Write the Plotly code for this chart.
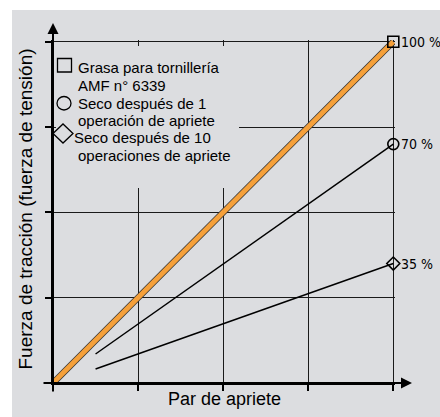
import plotly.graph_objects as go

# chart values
grasa_x = [0, 4]
grasa_y = [0, 4]
seco_x = [0.5, 4]
seco1_y = [0.34, 2.8]
seco10_y = [0.165, 1.4]
pct_labels = ["100 %", "70 %", "35 %"]
ticks = [0, 1, 2, 3, 4]

legend_lines = [
    "Grasa para tornillería", "AMF n° 6339",
    "Seco después de 1", "operación de apriete",
    "Seco después de 10", "operaciones de apriete",
]

BG = "#dcdde0"
ORANGE = "#f5a03a"

# plot area in pixels: x 53..395, y 40..383
L, R, T, B = 53, 45, 40, 34
W, H = 440, 417
PW, PH = W - L - R, H - T - B


def px_x(px):
    return (px - L) / PW


def px_y(py):
    return (H - B - py) / PH


fig = go.Figure()

fig.add_trace(go.Scatter(x=grasa_x, y=grasa_y, mode="lines",
                         line=dict(color="#333333", width=6.5), cliponaxis=False))
fig.add_trace(go.Scatter(x=grasa_x, y=grasa_y, mode="lines",
                         line=dict(color=ORANGE, width=5), cliponaxis=False))
fig.add_trace(go.Scatter(x=seco_x, y=seco1_y, mode="lines",
                         line=dict(color="black", width=1.5), cliponaxis=False))
fig.add_trace(go.Scatter(x=seco_x, y=seco10_y, mode="lines",
                         line=dict(color="black", width=1.5), cliponaxis=False))

ends = [(grasa_x[-1], grasa_y[-1], "square-open", 11),
        (seco_x[-1], seco1_y[-1], "circle-open", 11),
        (seco_x[-1], seco10_y[-1], "diamond-open", 10)]
for x, y, sym, size in ends:
    fig.add_trace(go.Scatter(x=[x], y=[y], mode="markers", cliponaxis=False,
                             marker=dict(symbol=sym, size=size, color="black",
                                         line=dict(width=1.6, color="black"))))

for (x, y, _, _), lab in zip(ends, pct_labels):
    fig.add_annotation(x=x, y=y, text=lab, showarrow=False, xanchor="left",
                       yanchor="middle", xshift=6,
                       font=dict(family="Liberation Sans Narrow, DejaVu Sans Condensed, sans-serif",
                                 size=14, color="black"))

# axis arrows
fig.add_annotation(xref="paper", yref="paper", x=px_x(412), y=0, ax=-370, ay=0,
                   axref="pixel", ayref="pixel", text="", showarrow=True,
                   arrowhead=2, arrowsize=1.1, arrowwidth=2, arrowcolor="black")
fig.add_annotation(xref="paper", yref="paper", x=0, y=px_y(23), ax=0, ay=370,
                   axref="pixel", ayref="pixel", text="", showarrow=True,
                   arrowhead=2, arrowsize=1.1, arrowwidth=2, arrowcolor="black")

# axis titles
fig.add_annotation(xref="paper", yref="paper", x=px_x(25), y=px_y(209.5),
                   text="Fuerza de tracción (fuerza de tensión)", textangle=-90,
                   showarrow=False, xanchor="center", yanchor="middle",
                   font=dict(family="Liberation Sans, Arial, sans-serif", size=19, color="black"))
fig.add_annotation(xref="paper", yref="paper", x=px_x(224), y=px_y(399),
                   text="Par de apriete", showarrow=False, xanchor="center", yanchor="middle",
                   font=dict(family="Liberation Sans, Arial, sans-serif", size=18, color="black"))

# background panel and legend box
fig.add_shape(type="rect", xref="paper", yref="paper", layer="below",
              x0=px_x(12), x1=px_x(450), y0=px_y(430), y1=px_y(10),
              fillcolor=BG, line=dict(width=0))
fig.add_shape(type="rect", xref="paper", yref="paper", layer="above",
              x0=px_x(56), x1=px_x(239), y0=px_y(188), y1=px_y(46),
              fillcolor=BG, line=dict(width=0))

sym_line = dict(color="black", width=1.3)
fig.add_shape(type="rect", xref="paper", yref="paper", layer="above",
              x0=px_x(57.5), x1=px_x(71.5), y0=px_y(72), y1=px_y(58.5), line=sym_line)
fig.add_shape(type="circle", xref="paper", yref="paper", layer="above",
              x0=px_x(57), x1=px_x(71), y0=px_y(110), y1=px_y(96.5), line=sym_line)
cx, cy = 63, 133.5
fig.add_shape(type="path", xref="paper", yref="paper", layer="above", line=sym_line,
              path=f"M {px_x(cx-10)},{px_y(cy)} L {px_x(cx)},{px_y(cy-9.5)} "
                   f"L {px_x(cx+10)},{px_y(cy)} L {px_x(cx)},{px_y(cy+9.5)} Z")

line_y = [67, 85, 103, 121, 137, 155]
line_x = [77, 77, 77, 77, 73, 77]
for txt, lx, ly in zip(legend_lines, line_x, line_y):
    fig.add_annotation(xref="paper", yref="paper", x=px_x(lx), y=px_y(ly), text=txt,
                       showarrow=False, xanchor="left", yanchor="middle", borderpad=0,
                       font=dict(family="Liberation Sans, Arial, sans-serif", size=15, color="black"))

axis_style = dict(range=[0, 4.02], tickvals=ticks, showticklabels=False,
                  showgrid=True, gridcolor="#1a1a1a", gridwidth=1, zeroline=False,
                  showline=True, linecolor="black", linewidth=2,
                  ticks="outside", ticklen=6, tickcolor="black", tickwidth=1.5,
                  fixedrange=True)
fig.update_xaxes(**axis_style)
fig.update_yaxes(**axis_style)

fig.update_layout(
    width=W, height=H,
    margin=dict(l=L, r=R, t=T, b=B, autoexpand=False),
    paper_bgcolor="white",
    plot_bgcolor=BG,
    showlegend=False,
)

# drop the browser's default body margin so the figure sits at the window corner
fig.write_html("out.html", config={"displayModeBar": False},
               post_script="document.body.style.margin='0';")
